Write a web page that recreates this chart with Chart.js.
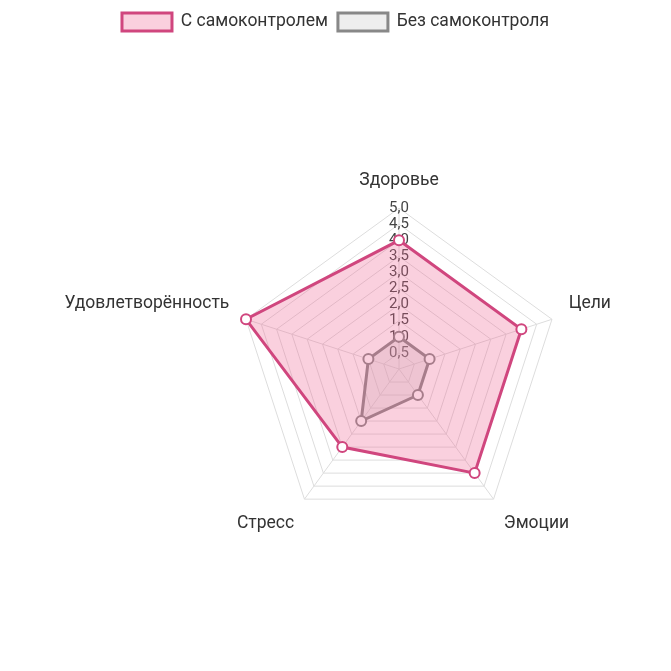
<!DOCTYPE html>
<html lang="ru">
<head>
<meta charset="utf-8">
<script src="https://cdn.jsdelivr.net/npm/chart.js@4"></script>
<style>
  html, body { margin: 0; padding: 0; background: #fff; }
  #wrap { width: 671px; height: 671px; }
</style>
</head>
<body>
<div id="wrap"><canvas id="radar"></canvas></div>
<script>
// подписи осей
const labels = ['Здоровье', 'Цели', 'Эмоции', 'Стресс', 'Удовлетворённость'];
// значения (0–5)
const withControl = [4.0, 4.0, 4.0, 3.0, 5.0];
const withoutControl = [1.0, 1.0, 1.0, 2.0, 1.0];
const seriesNames = ['С самоконтролем', 'Без самоконтроля'];

Chart.defaults.font.family = 'Roboto, "Noto Sans", sans-serif';
Chart.defaults.color = '#333';

new Chart(document.getElementById('radar'), {
    type: 'radar',
    data: {
        labels: labels,
        datasets: [{
            label: seriesNames[0],
            data: withControl,
            borderColor: '#d0467e',
            backgroundColor: 'rgba(240, 98, 146, 0.3)',
            borderWidth: 3,
            pointBackgroundColor: '#fff',
            pointBorderColor: '#d0467e',
            pointBorderWidth: 2,
            pointRadius: 5
        }, {
            label: seriesNames[1],
            data: withoutControl,
            borderColor: '#888',
            backgroundColor: 'rgba(200, 200, 200, 0.3)',
            borderWidth: 3,
            pointBackgroundColor: '#fff',
            pointBorderColor: '#888',
            pointBorderWidth: 2,
            pointRadius: 5
        }]
    },
    options: {
        responsive: true,
        maintainAspectRatio: false,
        animation: false,
        locale: 'ru-RU',
        layout: { padding: { top: 3, bottom: 2, left: 0, right: 0 } },
        plugins: {
            legend: {
                position: 'top',
                labels: { boxWidth: 50, boxHeight: 18, font: { size: 17.5 }, color: '#333' }
            },
            tooltip: { enabled: false }
        },
        scales: {
            r: {
                min: 0,
                max: 5,
                ticks: {
                    stepSize: 0.5,
                    showLabelBackdrop: false,
                    color: '#444',
                    font: { size: 15 },
                    callback: v => v.toFixed(1).replace('.', ',')
                },
                grid: { color: '#ddd' },
                angleLines: { color: '#ddd' },
                pointLabels: { font: { size: 17.5 }, color: '#333', padding: 8 }
            }
        }
    }
});
</script>
</body>
</html>
